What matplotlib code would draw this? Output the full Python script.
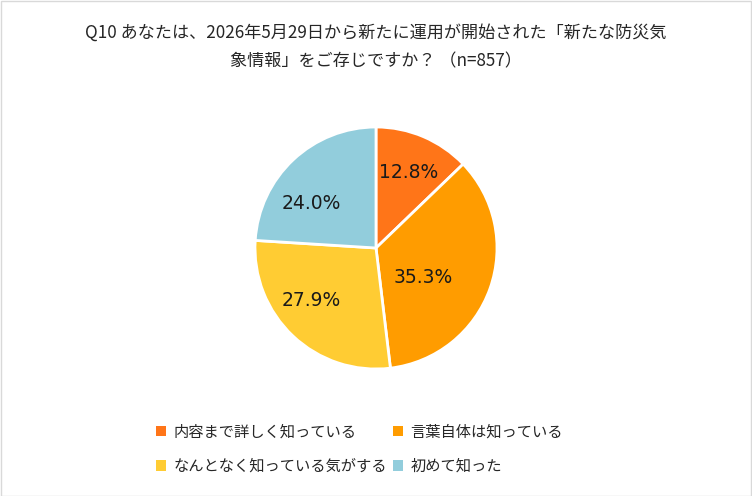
import numpy as np
import matplotlib
matplotlib.use("Agg")
import matplotlib.pyplot as plt
import matplotlib.patches as patches

plt.rcParams['font.family'] = ['Noto Sans CJK JP', 'DejaVu Sans']

categories = ["内容まで詳しく知っている", "言葉自体は知っている",
              "なんとなく知っている気がする", "初めて知った"]
shares = [12.8, 35.3, 27.9, 24.0]
colors = ["#FF7518", "#FF9C00", "#FFCC33", "#92CDDC"]

title = "Q10 あなたは、2026年5月29日から新たに運用が開始された「新たな防災気\n象情報」をご存じですか？ （n=857）"

# label placement tweaks (fraction of radius, angle nudge in degrees)
label_dist = [0.68, 0.46, 0.69, 0.65]
label_shift = [0, -12, -8, 12]

fig = plt.figure(figsize=(7.52, 4.96), dpi=100)
fig.patch.set_facecolor("white")
fig.add_artist(patches.Rectangle((0.0007, 0.001), 0.9986, 0.997, transform=fig.transFigure,
                                 fill=False, edgecolor="#D9D9D9", linewidth=1))

r_px = 121
ax = fig.add_axes([0.5 - r_px / 752, 0.5 - r_px / 496, 2 * r_px / 752, 2 * r_px / 496])
wedges, _ = ax.pie(shares, colors=colors, startangle=90, counterclock=False, radius=1.0,
                   wedgeprops=dict(edgecolor="white", linewidth=2))
ax.set_xlim(-1, 1)
ax.set_ylim(-1, 1)
ax.set_aspect("equal")
ax.axis("off")

for w, val, d, s in zip(wedges, shares, label_dist, label_shift):
    mid = np.deg2rad((w.theta1 + w.theta2) / 2 + s)
    ax.text(d * np.cos(mid), d * np.sin(mid), f"{val:.1f}%", ha="center", va="center",
            fontsize=13.5, fontfamily=["DejaVu Sans"], color="#1a1a1a")

fig.text(0.5, 1 - 47 / 496, title, ha="center", va="center", fontsize=12.3,
         color="#262626", linespacing=1.75)

# legend is filled row by row in the reference
order = [0, 2, 1, 3]
handles = [patches.Patch(facecolor=colors[i], edgecolor="none") for i in order]
labels = [categories[i] for i in order]
fig.legend(handles, labels, loc="center", bbox_to_anchor=(0.478, 1 - 449 / 496), ncol=2,
           frameon=False, fontsize=11, handlelength=0.65, handleheight=0.65,
           handletextpad=0.5, columnspacing=0.4, labelspacing=1.15, labelcolor="#262626")

fig.savefig("out.png", dpi=100)
plt.close(fig)
